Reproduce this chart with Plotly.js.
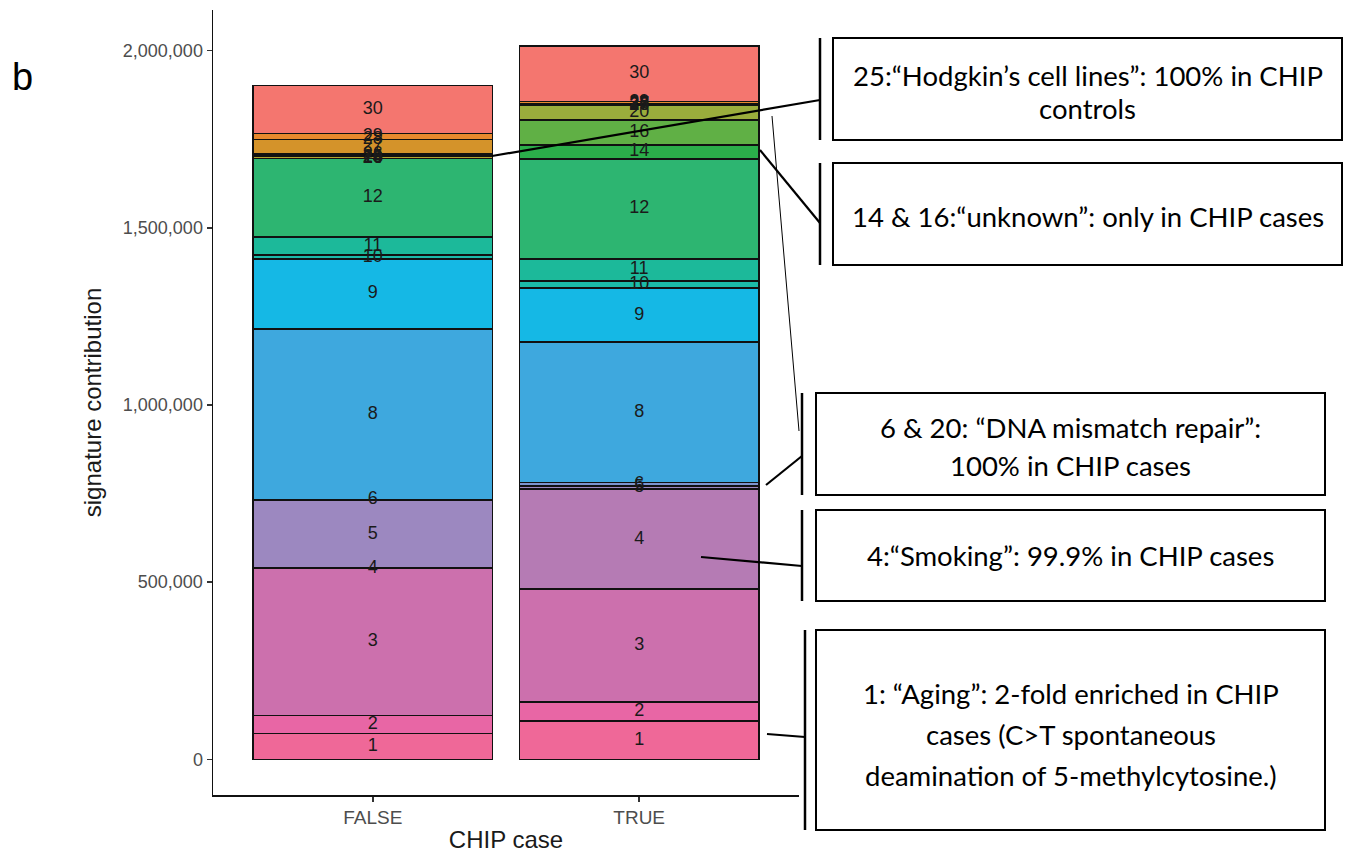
<!DOCTYPE html>
<html>
<head>
<meta charset="utf-8">
<script src="https://cdn.plot.ly/plotly-3.0.1.min.js"></script>
<style>html,body{margin:0;padding:0;background:#fff;}#chart{width:1346px;height:853px;}</style>
</head>
<body>
<div id="chart"></div>
<script>
// ---- data ----
const categories = ['FALSE', 'TRUE'];
const signatures = ['1','2','3','4','5','6','8','9','10','11','12','14','16','20','25','26','27','28','29','30'];
const falseValues = [73400, 50800, 415300, 300, 192100, 0, 483000, 197700, 9900, 52300, 220300, 0, 0, 0, 7000, 7000, 40400, 0, 17000, 135600];
const trueValues  = [108200, 53700, 318400, 282500, 9300, 9600, 396300, 151700, 20600, 62200, 282500, 39500, 70600, 40400, 0, 1500, 2000, 1500, 6000, 157000];
const yTickValues = [0, 500000, 1000000, 1500000, 2000000];
const box1Lines = ['25:\u201cHodgkin\u2019s cell lines\u201d: 100% in CHIP', 'controls'];
const box2Lines = ['14 & 16:\u201cunknown\u201d: only in CHIP cases'];
const box3Lines = ['6 & 20: \u201cDNA mismatch repair\u201d:', '100% in CHIP cases'];
const box4Lines = ['4:\u201cSmoking\u201d: 99.9% in CHIP cases'];
const box5Lines = ['1: \u201cAging\u201d: 2-fold enriched in CHIP', 'cases (C>T spontaneous', 'deamination of 5-methylcytosine.)'];

// ---- styles ----
const sigColors = ['#EF6898','#E866A5','#CC70AD','#B57BB4','#9C88C0','#7D95CF','#3EA8DE','#15B8E5','#1CBAA8','#1CB99A','#2DB571','#2BAE4A','#60B045','#9AAD3C','#B3A232','#C49B2C','#D4932A','#DE8F2A','#E8892D','#F4766F'];

const L = 213, R = 799, T = 10, B = 795;
const W = 1346, H = 853;
const px = x => (x - L) / (R - L);
const py = y => (B - y) / (B - T);
const SANS = 'Liberation Sans, Arial, sans-serif';

const traces = signatures.map((s, i) => ({
  type: 'bar',
  x: categories,
  y: [falseValues[i], trueValues[i]],
  name: s,
  marker: {color: sigColors[i], line: {color: '#111', width: 1.6}},
  hoverinfo: 'skip',
  showlegend: false
}));

// stacked midpoints for labels
const lx = [], ly = [], lt = [];
[falseValues, trueValues].forEach((vals, c) => {
  let cum = 0;
  vals.forEach((v, i) => {
    lx.push(categories[c]);
    ly.push(cum + v / 2);
    lt.push(signatures[i]);
    cum += v;
  });
});
traces.push({
  type: 'scatter', mode: 'text', x: lx, y: ly, text: lt,
  textposition: 'middle center',
  textfont: {family: SANS, size: 18, color: '#1a1a1a'},
  hoverinfo: 'skip', showlegend: false
});

const shapes = [];
const annotations = [];
function box(x0, y0, x1, y1, bx, lines, lineYs) {
  shapes.push({type: 'rect', xref: 'paper', yref: 'paper', x0: px(x0), x1: px(x1), y0: py(y1), y1: py(y0),
    line: {color: '#000', width: 2}, fillcolor: 'rgba(0,0,0,0)'});
  shapes.push({type: 'line', xref: 'paper', yref: 'paper', x0: px(bx), x1: px(bx), y0: py(y1), y1: py(y0),
    line: {color: '#000', width: 2.5}});
  lines.forEach((t, k) => {
    annotations.push({xref: 'paper', yref: 'paper', x: px((x0 + x1) / 2), y: py(lineYs[k]),
      xanchor: 'center', yanchor: 'middle', showarrow: false, text: t,
      font: {family: 'Lato, Open Sans, sans-serif', size: 27.5, color: '#000'}});
  });
}
box(833, 38, 1342, 140, 820, box1Lines, [76, 109]);
box(833, 163, 1342, 265, 820, box2Lines, [216]);
box(816, 393, 1325, 495, 802, box3Lines, [427, 465]);
box(816, 510, 1325, 601, 802, box4Lines, [555]);
box(816, 630, 1325, 830, 805, box5Lines, [693, 734, 775]);

function seg(x0, y0, x1, y1, w) {
  shapes.push({type: 'line', xref: 'paper', yref: 'paper', x0: px(x0), y0: py(y0), x1: px(x1), y1: py(y1),
    line: {color: '#000', width: w}});
}
seg(492, 156, 820, 100, 2.2);
seg(760, 150, 820, 223, 2.2);
seg(772, 116, 799, 431, 1);
seg(766, 485, 802, 456, 2.2);
seg(701, 557, 802, 566, 2.2);
seg(767, 734, 805, 737, 2.2);

annotations.push({xref: 'paper', yref: 'paper', x: px(22), y: py(77), xanchor: 'center', yanchor: 'middle',
  showarrow: false, text: 'b', font: {family: SANS, size: 38, color: '#000'}});

const layout = {
  width: W, height: H,
  margin: {l: L, r: W - R, t: T, b: H - B, pad: 0},
  paper_bgcolor: '#fff', plot_bgcolor: '#fff',
  barmode: 'stack', bargap: 0.1,
  showlegend: false,
  xaxis: {
    type: 'category', categoryorder: 'array', categoryarray: categories,
    range: [-0.6, 1.6], showgrid: false, zeroline: false,
    showline: true, linecolor: '#111', linewidth: 1.5,
    ticks: 'outside', ticklen: 5, tickwidth: 1.4, tickcolor: '#333',
    tickfont: {family: SANS, size: 19, color: '#4D4D4D'},
    title: {text: 'CHIP case', font: {family: SANS, size: 24, color: '#1a1a1a'}, standoff: 6},
    fixedrange: true
  },
  yaxis: {
    range: [-100700, 2114700], showgrid: false, zeroline: false,
    showline: true, linecolor: '#111', linewidth: 1.5,
    ticks: 'outside', ticklen: 5, tickwidth: 1.4, tickcolor: '#333',
    tickvals: yTickValues, tickformat: ',d',
    tickfont: {family: SANS, size: 18, color: '#4D4D4D'},
    title: {text: 'signature contribution', font: {family: SANS, size: 24, color: '#1a1a1a'}, standoff: 14},
    fixedrange: true
  },
  shapes: shapes,
  annotations: annotations
};

Plotly.newPlot('chart', traces, layout, {staticPlot: true, displayModeBar: false});
</script>
</body>
</html>
